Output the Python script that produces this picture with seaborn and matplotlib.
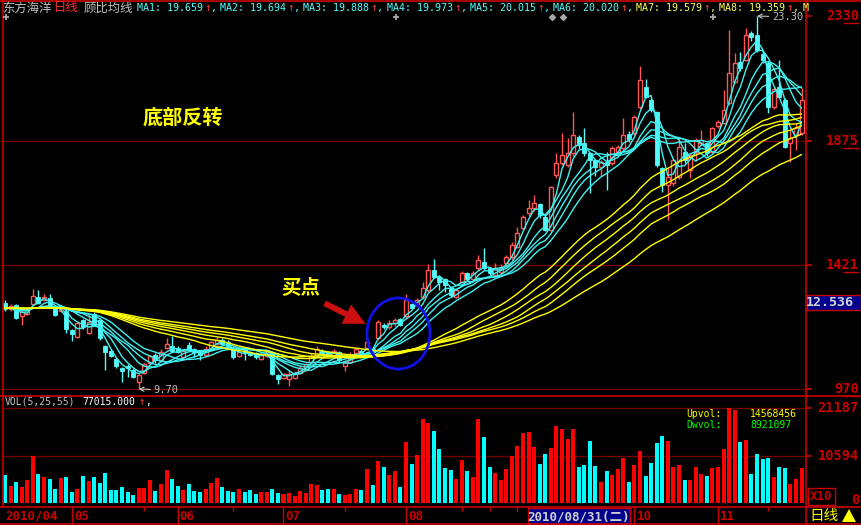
import numpy as np
import pandas as pd
import matplotlib
matplotlib.use("Agg")
import matplotlib.pyplot as plt
import seaborn as sns
from matplotlib.patches import Rectangle, Ellipse, FancyArrowPatch, Polygon

# ---------------- data ----------------
opens = [12.85, 12.62, 12.75, 12.35, 12.45, 12.80, 13.05, 12.95, 13.00, 12.65,
         12.55, 12.55, 11.85, 11.60, 12.20, 11.75, 12.45, 12.20, 11.25, 11.10,
         10.80, 10.45, 10.55, 10.40, 9.95, 10.30, 10.65, 10.95, 10.75, 11.20,
         11.25, 11.20, 10.85, 11.30, 11.15, 11.05, 10.95, 11.20, 11.35, 11.50,
         11.40, 11.20, 10.90, 11.15, 11.05, 11.00, 10.80, 10.90, 11.05, 10.20,
         10.10, 10.05, 10.10, 10.30, 10.40, 10.70, 10.90, 11.10, 11.05, 10.95,
         11.05, 10.55, 10.70, 11.00, 11.10, 11.20, 11.15, 11.55, 12.05, 11.95,
         12.10, 12.25, 12.35, 12.80, 12.75, 13.07, 13.31, 14.04, 13.80, 13.70,
         13.37, 13.07, 13.61, 13.92, 13.70, 14.10, 14.34, 14.10, 13.85, 13.98,
         14.28, 14.53, 14.89, 15.56, 16.11, 16.29, 16.43, 15.98, 15.50, 17.50,
         17.93, 17.87, 18.29, 18.90, 18.68, 18.29, 18.05, 17.81, 17.99, 17.93,
         18.35, 18.48, 19.00, 19.02, 19.99, 20.72, 20.24, 19.81, 17.75, 17.14,
         17.20, 17.44, 18.35, 17.68, 18.35, 18.66, 18.66, 18.35, 19.30, 19.39,
         20.12, 20.91, 21.63, 21.70, 22.69, 22.60, 21.90, 21.57, 19.99, 20.72,
         20.24, 18.66, 18.95, 19.02]
closes = [12.62, 12.72, 12.28, 12.50, 12.60, 13.10, 12.85, 13.05, 12.78, 12.40,
          12.62, 11.90, 11.70, 12.10, 11.95, 12.15, 12.05, 11.55, 11.05, 10.90,
          10.55, 10.35, 10.45, 10.15, 10.20, 10.60, 10.90, 10.75, 11.05, 11.35,
          11.10, 11.05, 11.10, 11.15, 11.05, 10.95, 11.15, 11.40, 11.50, 11.35,
          11.25, 10.85, 11.05, 11.05, 10.95, 10.85, 10.95, 11.05, 10.25, 10.05,
          10.25, 10.25, 10.30, 10.45, 10.60, 10.90, 11.15, 11.00, 10.95, 11.10,
          10.75, 10.70, 10.90, 11.15, 10.95, 11.40, 11.05, 12.15, 11.95, 12.10,
          12.20, 12.05, 12.95, 12.65, 12.95, 13.37, 14.04, 13.80, 13.61, 13.50,
          13.13, 13.31, 13.92, 13.70, 13.92, 14.40, 14.10, 13.92, 14.10, 14.10,
          14.53, 14.95, 15.38, 15.98, 16.29, 16.47, 16.04, 15.50, 17.05, 17.93,
          18.23, 18.29, 18.96, 18.60, 18.29, 18.05, 17.81, 17.99, 17.87, 18.50,
          18.54, 18.96, 18.80, 19.63, 20.97, 20.36, 19.87, 17.87, 17.14, 17.44,
          18.05, 18.54, 18.05, 18.23, 18.78, 18.78, 18.29, 19.20, 19.45, 19.87,
          21.21, 21.57, 21.39, 22.61, 22.52, 22.06, 21.70, 19.99, 20.65, 20.36,
          18.54, 18.84, 19.20, 20.24]
highs = [12.95, 12.80, 12.80, 12.55, 12.70, 13.35, 13.30, 13.15, 13.15, 12.70,
         12.70, 12.60, 11.90, 12.15, 12.25, 12.45, 12.50, 12.30, 11.30, 11.15,
         10.85, 10.50, 10.60, 10.45, 10.25, 10.65, 10.95, 11.00, 11.15, 11.55,
         11.65, 11.25, 11.15, 11.40, 11.20, 11.10, 11.25, 11.45, 11.60, 11.55,
         11.50, 11.25, 11.15, 11.20, 11.10, 11.05, 11.00, 11.10, 11.10, 10.25,
         10.30, 10.40, 10.35, 10.55, 10.65, 11.00, 11.25, 11.15, 11.10, 11.15,
         11.10, 10.75, 11.05, 11.20, 11.15, 11.50, 11.20, 12.20, 12.10, 12.20,
         12.30, 12.30, 13.15, 12.85, 13.00, 13.61, 14.26, 14.44, 13.85, 13.75,
         13.45, 13.35, 14.00, 13.98, 14.00, 14.60, 14.83, 14.15, 14.30, 14.25,
         14.60, 15.05, 15.62, 16.05, 16.60, 16.77, 16.50, 16.05, 17.10, 18.29,
         19.02, 18.84, 19.81, 18.95, 19.20, 18.35, 18.10, 18.05, 18.35, 18.55,
         18.60, 19.57, 19.10, 19.70, 21.48, 20.99, 20.30, 19.85, 17.80, 17.75,
         18.10, 18.84, 18.66, 18.30, 18.85, 19.15, 18.72, 19.25, 19.50, 20.60,
         22.79, 21.95, 21.99, 22.85, 22.75, 23.30, 22.00, 21.65, 20.70, 21.70,
         20.30, 19.15, 19.40, 20.66]
lows = [12.55, 12.55, 12.25, 12.05, 12.40, 12.75, 12.80, 12.90, 12.70, 12.35,
        12.50, 11.75, 11.45, 11.55, 11.90, 11.70, 12.00, 11.50, 10.40, 10.85,
        10.45, 9.95, 10.15, 10.10, 9.70, 10.25, 10.60, 10.65, 10.70, 11.15,
        11.05, 11.00, 10.80, 11.10, 10.85, 10.75, 10.90, 11.15, 11.30, 11.30,
        11.20, 10.80, 10.85, 10.75, 10.90, 10.80, 10.75, 10.85, 10.20, 9.90,
        10.05, 9.80, 10.05, 10.25, 10.35, 10.65, 10.85, 10.95, 10.90, 10.90,
        10.70, 10.35, 10.65, 10.95, 10.90, 11.15, 11.00, 11.50, 11.90, 11.90,
        12.00, 12.00, 12.30, 12.60, 12.70, 13.00, 13.25, 13.75, 13.31, 13.25,
        13.05, 13.00, 13.55, 13.65, 13.65, 14.05, 14.05, 13.85, 13.80, 13.90,
        14.20, 14.45, 14.85, 15.50, 16.00, 16.20, 15.95, 15.45, 15.45, 17.40,
        17.85, 17.80, 18.20, 18.45, 18.20, 16.83, 17.45, 17.45, 16.96, 17.85,
        18.30, 18.40, 18.70, 18.95, 19.90, 20.30, 19.80, 17.80, 16.90, 15.86,
        17.10, 17.35, 17.95, 17.40, 18.00, 18.60, 18.20, 18.30, 19.20, 19.35,
        20.05, 20.85, 21.30, 21.65, 22.40, 22.00, 21.60, 19.75, 19.90, 20.30,
        18.50, 17.99, 18.40, 18.95]
volumes = [6316, 3864, 4755, 3641, 5201, 10625, 6538, 5870, 5424, 3195,
           5647, 5870, 2526, 3195, 6093, 4978, 5870, 4532, 6761, 2972,
           2972, 3641, 2526, 1858, 3418, 3418, 5201, 2749, 4309, 7430,
           5424, 3864, 2972, 4309, 2749, 2526, 3195, 4532, 5647, 3641,
           2749, 2526, 3195, 2526, 2972, 2080, 2526, 2526, 3195, 2303,
           2080, 2303, 1635, 2749, 2303, 4309, 4087, 2972, 3195, 3195,
           2080, 1858, 2080, 3195, 2972, 7653, 4087, 9436, 8099, 6316,
           7207, 3641, 13671, 8767, 10774, 18798, 17832, 16197, 12111, 7950,
           7504, 5498, 9733, 7281, 5870, 18872, 14860, 8173, 6836, 5275,
           7727, 10625, 12854, 15752, 15975, 12631, 8842, 11071, 12408, 17312,
           16643, 14414, 16643, 8173, 8619, 13968, 8396, 4830, 7281, 6390,
           7727, 10179, 4830, 8619, 11665, 6167, 9065, 13523, 15083, 13968,
           8173, 8545, 5275, 5275, 8173, 6613, 6167, 7950, 8173, 12185,
           21187, 20878, 13746, 14191, 6613, 11071, 9956, 10179, 5944, 8173,
           7950, 4304, 5419, 7939]

ma_short = [3, 5, 8, 10, 12, 15]
ma_long = [30, 35, 40, 45, 50, 60]
ma_seed_level = 12.65      # level where all averages meet at the left edge
header_ma_values = [19.659, 19.694, 19.888, 19.973, 20.015, 20.020, 19.579, 19.359]
price_ticks = [23.30, 18.75, 14.21, 9.70]
price_tick_labels = ["2330", "1875", "1421", "970"]
vol_ticks = [21187, 10594, 0]
vol_tick_labels = ["21187", "10594", "0"]
month_labels = ["2010/04", "05", "06", "07", "08", "10", "11"]
month_start = [0, 12, 31, 50, 72, 113, 128]
minor_ticks = [25, 41, 61, 82, 87, 92, 137]
cursor_date = "2010/08/31(二)"
cursor_price = "12.536"
vol_header_value = "77015.000"
upvol_value = "14568456"
dwvol_value = "8921097"

# ---------------- style ----------------
sns.set_theme(style="dark", rc={"axes.facecolor": "black", "figure.facecolor": "black"})
plt.rcParams["font.family"] = ["DejaVu Sans", "Noto Sans CJK SC"]
CJK = ["Noto Sans CJK SC", "DejaVu Sans"]
MONO = ["DejaVu Sans Mono", "Noto Sans CJK SC"]

RED_C = "#ff5454"
CYAN = "#54fcfc"
YELLOW = "#ffff54"
AXRED = "#c80000"
GRID = "#700000"
GRAY = "#c0c0c0"

W, H = 862, 525
fig = plt.figure(figsize=(W / 100, H / 100), dpi=100, facecolor="black")

# pixel geometry
L, R = 3, 806
PT, PB = 15, 395          # price panel
VT, VB = 396, 507         # volume panel
step = 5.57               # px per candle, first centre at x=5
x0 = 5


def px_to_idx(px):
    return (px - x0) / step


def px_to_price(py):
    return 9.70 + (389 - py) * (23.30 - 9.70) / 373.0


N = len(closes)
idx = np.arange(N)
df = pd.DataFrame({"idx": idx, "open": opens, "high": highs, "low": lows,
                   "close": closes, "vol": volumes})
df["dir"] = np.where(df["close"] >= df["open"], "up", "down")

# ---------------- price panel ----------------
ax = fig.add_axes([L / W, 1 - PB / H, (R - L) / W, (PB - PT) / H])
ax.set_facecolor("black")
for p in price_ticks[1:]:
    ax.axhline(p, color=GRID, lw=1, zorder=1)

up = df[df["dir"] == "up"]
dn = df[df["dir"] == "down"]
ax.vlines(up["idx"], up["low"], up["high"], color=RED_C, lw=1, zorder=2)
ax.vlines(dn["idx"], dn["low"], dn["high"], color=CYAN, lw=1, zorder=2)
ax.bar(up["idx"], np.maximum(up["close"] - up["open"], 0.02), bottom=up["open"],
       width=0.72, facecolor="black", edgecolor=RED_C, linewidth=1, zorder=3)
ax.bar(dn["idx"], np.maximum(dn["open"] - dn["close"], 0.02), bottom=dn["close"],
       width=0.72, facecolor=CYAN, edgecolor=CYAN, linewidth=0.6, zorder=3)

# Guppy moving averages (window padded with the level seen at the left edge)
ma_names = []
palette = {}
for w in ma_short + ma_long:
    s = df["close"].rolling(w, min_periods=1).sum()
    n = df["close"].rolling(w, min_periods=1).count()
    df[f"MA{w}"] = (s + (w - n) * ma_seed_level) / w
    ma_names.append(f"MA{w}")
    palette[f"MA{w}"] = "#40f0f0" if w in ma_short else "#ffff00"
long_df = df.melt(id_vars="idx", value_vars=ma_names, var_name="ma", value_name="value")
sns.lineplot(data=long_df, x="idx", y="value", hue="ma", palette=palette,
             estimator=None, legend=False, linewidth=1.0, ax=ax, zorder=4)
ax.set_xlim(px_to_idx(L), px_to_idx(R))
ax.set_ylim(px_to_price(PB), px_to_price(PT))
ax.set_xlabel("")
ax.set_ylabel("")
ax.set_xticks([])
ax.set_yticks([])
for s in ax.spines.values():
    s.set_visible(False)

# high / low markers
i_lo = int(np.argmin(lows))
i_hi = int(np.argmax(highs))
for i, val in [(i_lo, lows[i_lo]), (i_hi, highs[i_hi])]:
    ax.annotate(f"{val:.2f}", xy=(i, val), xytext=(15, -1),
                textcoords="offset pixels", color=GRAY, fontsize=7.5, family=MONO,
                va="center", annotation_clip=False,
                arrowprops=dict(arrowstyle="->", color=GRAY, lw=0.8, shrinkA=0, shrinkB=0))

# ---------------- volume panel ----------------
vax = fig.add_axes([L / W, 1 - VB / H, (R - L) / W, (VB - VT) / H])
vax.set_facecolor("black")
vs = 21187 / (503.3 - 408.3)
sns.barplot(data=df, x="idx", y="vol", hue="dir",
            palette={"up": "#ff0000", "down": "#00ffff"}, dodge=False, width=0.72,
            saturation=1, errorbar=None, legend=False, linewidth=0, ax=vax, zorder=3)
vax.set_xlim(px_to_idx(L), px_to_idx(R))
vax.set_ylim(-(VB - 503.3) * vs, (503.3 - VT) * vs)
for v in vol_ticks[:2]:
    vax.axhline(v, color=GRID, lw=1, zorder=1)
vax.set_xlabel("")
vax.set_ylabel("")
vax.set_xticks([])
vax.set_yticks([])
for s in vax.spines.values():
    s.set_visible(False)

# ---------------- overlay (frame, labels, annotations) ----------------
ov = fig.add_axes([0, 0, 1, 1])
ov.set_xlim(0, W)
ov.set_ylim(H, 0)
ov.axis("off")
ov.patch.set_alpha(0)


def hline(y, xa=0, xb=W, c=AXRED, lw=1.2):
    ov.plot([xa, xb], [y, y], color=c, lw=lw, solid_capstyle="butt")


def vline(x, ya, yb, c=AXRED, lw=1.2):
    ov.plot([x, x], [ya, yb], color=c, lw=lw, solid_capstyle="butt")


hline(0.7)
hline(395.5)
hline(507)
hline(524)
vline(L, 0, 507)
vline(R + 0.5, 0, 525)


def price_to_py(p):
    return 389 - (p - 9.70) * 373.0 / (23.30 - 9.70)


def vol_to_py(v):
    return 503.3 - v / vs


# right price scale
for p, lab in zip(price_ticks, price_tick_labels):
    y = price_to_py(p)
    hline(y, R, R + 6)
    ov.text(859, y, lab, color=AXRED, fontsize=9.8, family=MONO, ha="right",
            va="center", fontweight="bold")
    hline(y + 7, 859 - 2 * 8.1, 859, c=AXRED, lw=1)

# right volume scale
for v, lab in zip(vol_ticks, vol_tick_labels):
    y = vol_to_py(v)
    if v > 0:
        hline(y, R, R + 6)
        ov.text(859, y, lab, color=AXRED, fontsize=9.8, family=MONO, ha="right",
                va="center", fontweight="bold")
    else:
        ov.text(859, y - 3, lab, color=AXRED, fontsize=9.8, family=MONO, ha="right",
                va="center", fontweight="bold")
ov.add_patch(Rectangle((808, 488), 27, 17, fill=False, edgecolor=AXRED, lw=1))
ov.text(821.5, 497, "X10", color=AXRED, fontsize=9, family=MONO, ha="center",
        va="center", fontweight="bold")

# cursor price box
ov.add_patch(Rectangle((807, 295), 54, 15, facecolor="#00008c", edgecolor=AXRED, lw=1))
ov.text(830, 302.5, cursor_price, color="#d8d8d8", fontsize=9.5, family=MONO,
        ha="center", va="center", fontweight="bold")

# bottom-right
ov.text(809, 516, "日线", color="#ffff00", fontsize=10.5, family=CJK, ha="left", va="center")
ov.add_patch(Polygon([[842, 522], [856, 522], [849, 509]], closed=True,
                     facecolor="#ffff00", edgecolor="none"))

# date axis
for lab, i in zip(month_labels, month_start):
    x = x0 + i * step
    if i > 0:
        vline(x, 507, 524, lw=1)
    ov.text(x + 2 if i > 0 else 5, 516, lab, color=AXRED, fontsize=9, family=MONO,
            ha="left", va="center", fontweight="bold")
for i in minor_ticks:
    x = x0 + i * step
    vline(x, 507, 511, lw=1)
ov.add_patch(Rectangle((528, 508), 102, 16, facecolor="#00008c", edgecolor=AXRED, lw=1))
ov.text(579, 516.5, cursor_date, color="#d0d0d0", fontsize=9, family=MONO,
        ha="center", va="center", fontweight="bold")

# header line
ov.text(2, 8, "东方海洋", color=GRAY, fontsize=8.9, family=CJK, ha="left", va="center")
ov.text(54, 8, "日线", color="#ff3030", fontsize=8.9, family=CJK, ha="left", va="center")
ov.text(84, 8, "顾比均线", color=GRAY, fontsize=8.9, family=CJK, ha="left", va="center")
for k, v in enumerate(header_ma_values):
    xk = 137 + k * 83.2
    col = CYAN if k < 6 else YELLOW
    ov.text(xk, 8, f"MA{k + 1}: {v:.3f}", color=col, fontsize=7.2, family=MONO,
            ha="left", va="center")
    ov.text(xk + 67.5, 8, "↑", color="#ff4040", fontsize=8, family=MONO,
            ha="left", va="center")
    ov.text(xk + 74, 8, ",", color=col, fontsize=7.2, family=MONO,
            ha="left", va="center")
ov.text(803, 8, "M", color=YELLOW, fontsize=7.2, family=MONO, ha="left", va="center",
        clip_on=True)

# info markers
for mx in [6, 396, 713]:
    ov.plot(mx, 17, marker="+", color="#a8a8a8", ms=5, mew=1.3)
for mx in [552, 563]:
    ov.plot(mx, 17, marker="D", color="#a8a8a8", ms=3)

# volume header
ov.text(5, 402, "VOL(5,25,55)", color=GRAY, fontsize=7, family=MONO, ha="left", va="center")
ov.text(82, 402, vol_header_value, color="white", fontsize=7, family=MONO, ha="left",
        va="center")
ov.text(139, 402, "↑", color="#ff4040", fontsize=7.6, family=MONO, ha="left", va="center")
ov.text(145, 402, ",", color="white", fontsize=7, family=MONO, ha="left", va="center")
ov.text(686, 414, "Upvol:", color="#ffff00", fontsize=7, family=MONO, ha="left", va="center")
ov.text(750, 414, upvol_value, color="#ffff00", fontsize=7, family=MONO, ha="left", va="center")
ov.text(686, 425, "Dwvol:", color="#00ff00", fontsize=7, family=MONO, ha="left", va="center")
ov.text(750, 425, dwvol_value, color="#00ff00", fontsize=7, family=MONO, ha="left", va="center")

# annotations
ov.text(143, 117, "底部反转", color="#ffff00", fontsize=14.5, family=CJK,
        ha="left", va="center", fontweight="bold")
ov.text(281, 288, "买点", color="#ffff00", fontsize=14, family=CJK,
        ha="left", va="center", fontweight="bold")
ov.add_patch(FancyArrowPatch((322, 302), (368, 325),
                             arrowstyle="simple,head_width=1.1,head_length=1.1,tail_width=0.3",
                             mutation_scale=14, color="#cc1010", lw=0))
ov.add_patch(Ellipse((398.5, 333.5), 63, 71, fill=False, edgecolor="#1010e8", lw=2))

fig.savefig("out.png", dpi=100, facecolor="black")
